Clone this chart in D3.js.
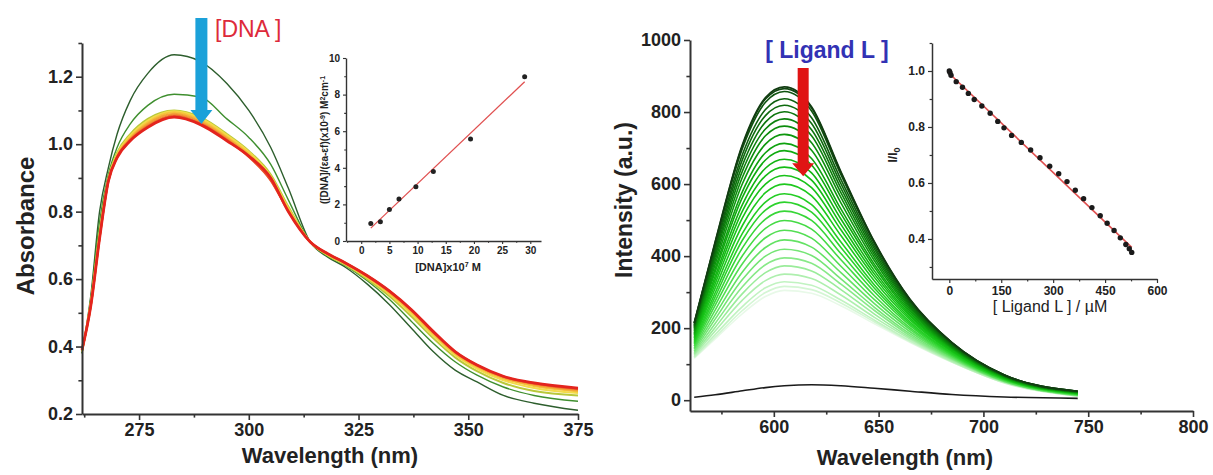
<!DOCTYPE html>
<html>
<head>
<meta charset="utf-8">
<script src="https://cdn.jsdelivr.net/npm/d3@7"></script>
<style>
  html, body { margin: 0; padding: 0; background: #fff; }
  svg { display: block; font-family: Arial, "Liberation Sans", sans-serif; }
</style>
</head>
<body>
<svg id="chart" width="1213" height="475"></svg>
<script>
// ---- UV-Vis titration with DNA (left panel) ----
const absWavelengths = [262, 264, 266, 268, 270, 273, 277, 283, 289, 295, 300, 305, 309, 314, 318, 322, 327, 332, 337, 342, 347, 352, 358, 365, 375];
const absFree   = [.38, .55, .80, .93, 1.03, 1.13, 1.21, 1.265, 1.245, 1.18, 1.10, .99, .87, .71, .665, .635, .585, .525, .455, .385, .33, .295, .255, .232, .211];
const absDna1   = [.38, .54, .77, .91, .99, 1.06, 1.115, 1.148, 1.14, 1.075, 1.02, .94, .835, .71, .668, .64, .595, .54, .475, .41, .355, .315, .28, .255, .238];
const absDna2   = [.385, .53, .74, .90, .975, 1.03, 1.075, 1.10, 1.08, 1.03, .98, .91, .815, .71, .67, .642, .60, .55, .49, .425, .368, .327, .292, .268, .255];
const absDna3   = [.385, .53, .73, .895, .97, 1.025, 1.07, 1.098, 1.077, 1.027, .977, .905, .81, .71, .672, .645, .604, .556, .498, .433, .375, .334, .30, .277, .262];
const absDna4   = [.387, .525, .725, .893, .967, 1.02, 1.065, 1.095, 1.072, 1.022, .972, .90, .807, .71, .673, .646, .606, .559, .503, .438, .379, .339, .305, .283, .267];
const absDna5   = [.388, .522, .723, .891, .964, 1.016, 1.06, 1.09, 1.067, 1.018, .967, .897, .804, .71, .674, .647, .608, .562, .506, .441, .382, .342, .308, .287, .27];
const absDna6   = [.389, .52, .721, .89, .962, 1.013, 1.055, 1.086, 1.062, 1.014, .964, .894, .802, .71, .675, .648, .609, .564, .508, .443, .384, .344, .31, .29, .273];
const absDna7   = [.39, .52, .72, .89, .961, 1.011, 1.052, 1.083, 1.06, 1.012, .962, .892, .801, .71, .675, .648, .61, .565, .509, .444, .385, .345, .311, .291, .275];
const absDna8   = [.39, .52, .72, .89, .96, 1.01, 1.05, 1.08, 1.058, 1.01, .965, .90, .80, .71, .675, .648, .61, .565, .51, .445, .385, .345, .312, .292, .277];
const absCurves = [absFree, absDna1, absDna2, absDna3, absDna4, absDna5, absDna6, absDna7, absDna8];
const absColors = ["#2d5e2d", "#3f8f2f", "#b9c83a", "#f2dc4a", "#f5c33a", "#f3a236", "#ee7a2a", "#e8502a", "#e3241e"];
const absWidths = [1.4, 1.4, 2, 2, 2, 2, 2, 2, 2.8];

// inset: [DNA]/(εa-εf) vs [DNA]
const dnaConc  = [1.7, 3.4, 5.0, 6.7, 9.7, 12.8, 19.4, 29.0];
const dnaRatio = [0.95, 1.05, 1.72, 2.3, 2.97, 3.8, 5.58, 8.97];

// ---- Emission titration with ligand L (right panel) ----
const emWavelengths = [562, 572, 585, 596, 605, 618, 632, 648, 665, 685, 710, 745];
const emissionSpectra = [
  [215, 440, 710, 840, 870, 815, 635, 440, 280, 160, 70, 25],
  [214, 438, 706, 836, 865, 811, 632, 438, 279, 160, 70, 25],
  [213, 434, 699, 827, 857, 803, 626, 435, 277, 159, 70, 25],
  [209, 424, 682, 807, 837, 784, 613, 427, 273, 157, 69, 24],
  [206, 416, 668, 790, 819, 768, 601, 420, 269, 155, 68, 24],
  [203, 407, 652, 772, 801, 751, 589, 412, 265, 153, 67, 23],
  [200, 398, 636, 753, 781, 734, 576, 404, 261, 151, 67, 23],
  [196, 388, 619, 734, 761, 715, 563, 396, 257, 149, 66, 22],
  [192, 377, 601, 711, 738, 694, 548, 387, 252, 147, 65, 22],
  [187, 365, 579, 687, 713, 671, 531, 377, 247, 145, 64, 21],
  [184, 356, 563, 667, 693, 653, 518, 369, 242, 143, 63, 21],
  [180, 344, 543, 644, 669, 631, 503, 359, 237, 141, 62, 20],
  [176, 334, 525, 623, 647, 611, 488, 350, 233, 138, 61, 20],
  [172, 323, 506, 600, 624, 590, 473, 341, 228, 136, 60, 19],
  [168, 311, 485, 576, 600, 567, 457, 331, 223, 134, 60, 18],
  [163, 298, 463, 550, 573, 543, 439, 320, 217, 131, 58, 18],
  [159, 287, 444, 528, 550, 522, 424, 311, 212, 129, 58, 17],
  [155, 275, 423, 503, 525, 499, 407, 301, 207, 126, 57, 16],
  [150, 263, 401, 477, 499, 475, 390, 290, 201, 124, 56, 16],
  [145, 250, 379, 451, 472, 450, 372, 279, 196, 121, 54, 15],
  [141, 237, 356, 424, 445, 425, 354, 268, 190, 119, 53, 14],
  [136, 225, 335, 400, 419, 402, 337, 258, 184, 116, 52, 14],
  [132, 213, 315, 376, 395, 380, 322, 249, 179, 114, 52, 13],
  [128, 202, 296, 354, 373, 359, 307, 239, 174, 112, 51, 13],
  [124, 192, 278, 332, 350, 338, 292, 230, 170, 109, 50, 12],
  [120, 182, 260, 312, 329, 319, 278, 222, 165, 107, 49, 12],
  [118, 175, 249, 299, 316, 307, 270, 217, 162, 106, 48, 11],
  [116, 170, 240, 288, 305, 297, 262, 212, 160, 105, 48, 11]
];
const emBlank = [8, 15, 26, 35, 40, 43, 40, 33, 25, 16, 9, 5];

// inset: I/I0 vs [Ligand L]
const ligandConc = [0, 2, 5, 20, 38, 55, 72, 94, 118, 140, 158, 180, 208, 235, 262, 290, 316, 340, 364, 388, 412, 436, 456, 476, 494, 510, 520, 527];
const quenchRatio = [1.0, 0.995, 0.985, 0.962, 0.942, 0.92, 0.898, 0.875, 0.849, 0.82, 0.797, 0.77, 0.745, 0.718, 0.69, 0.66, 0.633, 0.605, 0.574, 0.544, 0.512, 0.483, 0.456, 0.43, 0.404, 0.38, 0.365, 0.352];

const svg = d3.select("#chart");
svg.append("rect").attr("width", 1213).attr("height", 475).attr("fill", "#fff");
const FONT = "Arial, 'Liberation Sans', sans-serif";

// scales
const xL = d3.scaleLinear().domain([262, 375]).range([82, 578]);
const yL = d3.scaleLinear().domain([0.2, 1.3]).range([414, 43]);
const xR = d3.scaleLinear().domain([560, 800]).range([690, 1193]);
const yR = d3.scaleLinear().domain([-30, 1000]).range([411, 40]);
const xI = d3.scaleLinear().domain([-2.7, 31.9]).range([346, 541]);
const yI = d3.scaleLinear().domain([0, 10]).range([241, 58]);
const xJ = d3.scaleLinear().domain([-50, 600]).range([932, 1157]);
const yJ = d3.scaleLinear().domain([0.257, 1.1]).range([279, 43]);

// axis helper: major ticks with labels + unlabeled minor ticks
function addAxis(kind, scale, pos, major, minor, fmt, tick, fontSize, sw) {
  const make = kind === "left" ? d3.axisLeft : d3.axisBottom;
  const tr = kind === "left" ? `translate(${pos},0)` : `translate(0,${pos})`;
  const g = svg.append("g").attr("transform", tr);
  g.call(make(scale).tickValues(major).tickFormat(fmt).tickSize(tick).tickSizeOuter(0).tickPadding(3));
  g.append("g").call(make(scale).tickValues(minor).tickFormat("").tickSize(tick * 0.6).tickSizeOuter(0))
    .select(".domain").remove();
  g.attr("font-family", FONT).attr("font-size", fontSize);
  g.selectAll(".domain").attr("stroke", "#333").attr("stroke-width", sw);
  g.selectAll(".tick line").attr("stroke", "#333").attr("stroke-width", sw * 0.8);
  g.selectAll(".tick text").attr("fill", "#222").attr("font-weight", "bold");
  return g;
}
const rng = (a, b, s) => d3.range(a, b + s / 2, s);

// ---------- left main ----------
const absLine = d3.line().curve(d3.curveMonotoneX).x((d, i) => xL(absWavelengths[i])).y(d => yL(d));
absCurves.forEach((c, k) => {
  svg.append("path").datum(c).attr("d", absLine)
    .attr("fill", "none").attr("stroke", absColors[k]).attr("stroke-width", absWidths[k]);
});
addAxis("left", yL, 82, rng(0.2, 1.2, 0.2), rng(0.3, 1.3, 0.2), d3.format(".1f"), 6, 18, 2);
addAxis("bottom", xL, 414, rng(275, 375, 25), rng(262.5, 362.5, 25), d3.format("d"), 6, 18, 2);

svg.append("text").attr("transform", `translate(34,226) rotate(-90)`).attr("text-anchor", "middle")
  .attr("font-family", FONT).attr("font-size", 24).attr("font-weight", "bold").attr("fill", "#222").text("Absorbance");
svg.append("text").attr("x", 330).attr("y", 463).attr("text-anchor", "middle")
  .attr("font-family", FONT).attr("font-size", 22).attr("font-weight", "bold").attr("fill", "#222").text("Wavelength (nm)");

// arrow + label
function arrow(x, y1, y2, shaft, head, headLen, color) {
  const p = d3.path();
  p.moveTo(x - shaft / 2, y1); p.lineTo(x + shaft / 2, y1); p.lineTo(x + shaft / 2, y2 - headLen);
  p.lineTo(x + head / 2, y2 - headLen); p.lineTo(x, y2); p.lineTo(x - head / 2, y2 - headLen);
  p.lineTo(x - shaft / 2, y2 - headLen); p.closePath();
  svg.append("path").attr("d", p.toString()).attr("fill", color);
}
arrow(xL(289.2), yL(1.374), yL(1.06), 12, 22, 14, "#1ba1d9");
svg.append("text").attr("x", 215).attr("y", 37).attr("font-family", FONT).attr("font-size", 23)
  .attr("fill", "#dd2a3a").text("[DNA ]");

// left inset
const fitL = (() => {
  const mx = d3.mean(dnaConc), my = d3.mean(dnaRatio);
  const b = d3.sum(dnaConc, (x, i) => (x - mx) * (dnaRatio[i] - my)) / d3.sum(dnaConc, x => (x - mx) ** 2);
  return x => my + b * (x - mx);
})();
const xe = d3.extent(dnaConc);
svg.append("line").attr("x1", xI(xe[0])).attr("y1", yI(fitL(xe[0]))).attr("x2", xI(xe[1])).attr("y2", yI(fitL(xe[1])))
  .attr("stroke", "#e05050").attr("stroke-width", 1.3);
svg.append("g").selectAll("circle").data(dnaConc).join("circle")
  .attr("cx", d => xI(d)).attr("cy", (d, i) => yI(dnaRatio[i])).attr("r", 2.5).attr("fill", "#222");
addAxis("left", yI, 346, rng(0, 10, 2), rng(1, 9, 2), d3.format("d"), 3, 10, 1.4);
addAxis("bottom", xI, 241, rng(0, 30, 5), rng(-2.5, 27.5, 5), d3.format("d"), 3, 10, 1.4);
svg.append("text").attr("x", 448).attr("y", 271).attr("text-anchor", "middle")
  .attr("font-family", FONT).attr("font-size", 11).attr("font-weight", "bold").attr("fill", "#222")
  .html('[DNA]x10<tspan dy="-4" font-size="7">7</tspan><tspan dy="4"> M</tspan>');
svg.append("text").attr("transform", `translate(328,140) rotate(-90)`).attr("text-anchor", "middle")
  .attr("font-family", FONT).attr("font-size", 10).attr("font-weight", "bold").attr("fill", "#222")
  .html('([DNA]/(εa-εf)(x10<tspan dy="-3" font-size="7">-9</tspan><tspan dy="3">) M</tspan><tspan dy="-3" font-size="7">2</tspan><tspan dy="3">cm</tspan><tspan dy="-3" font-size="7">-1</tspan>');

// ---------- right main ----------
const emLine = d3.line().curve(d3.curveMonotoneX).x((d, i) => xR(emWavelengths[i])).y(d => yR(d));
const greenColor = d3.scaleSequential(d3.interpolateRgbBasis(["#123c12", "#0a7a0a", "#0fb80f", "#22d422", "#7ee87e", "#e8f9e8"]))
  .domain([0, emissionSpectra.length - 1]);
const order = d3.range(emissionSpectra.length).reverse();
svg.append("g").selectAll("path").data(order).join("path")
  .attr("d", i => emLine(emissionSpectra[i]))
  .attr("fill", "none").attr("stroke", i => greenColor(i)).attr("stroke-width", 1.6);
svg.append("path").datum(emBlank).attr("d", emLine).attr("fill", "none").attr("stroke", "#1a1a1a").attr("stroke-width", 1.6);

addAxis("left", yR, 690, rng(0, 1000, 200), rng(100, 900, 200), d3.format("d"), 6, 18, 2);
addAxis("bottom", xR, 411, rng(600, 800, 50), rng(575, 775, 50), d3.format("d"), 6, 18, 2);
svg.append("text").attr("transform", `translate(632,200) rotate(-90)`).attr("text-anchor", "middle")
  .attr("font-family", FONT).attr("font-size", 23).attr("font-weight", "bold").attr("fill", "#222").text("Intensity (a.u.)");
svg.append("text").attr("x", 905).attr("y", 465).attr("text-anchor", "middle")
  .attr("font-family", FONT).attr("font-size", 22).attr("font-weight", "bold").attr("fill", "#222").text("Wavelength (nm)");

arrow(xR(614), yR(922), yR(622), 11, 22, 13, "#e01414");
svg.append("text").attr("x", 827).attr("y", 58).attr("text-anchor", "middle").attr("font-family", FONT)
  .attr("font-size", 23).attr("font-weight", "bold").attr("fill", "#3232b4").text("[ Ligand L ]");

// right inset
const fitR = (() => {
  const mx = d3.mean(ligandConc), my = d3.mean(quenchRatio);
  const b = d3.sum(ligandConc, (x, i) => (x - mx) * (quenchRatio[i] - my)) / d3.sum(ligandConc, x => (x - mx) ** 2);
  return x => my + b * (x - mx);
})();
const le = d3.extent(ligandConc);
svg.append("line").attr("x1", xJ(le[0])).attr("y1", yJ(fitR(le[0]))).attr("x2", xJ(le[1])).attr("y2", yJ(fitR(le[1])))
  .attr("stroke", "#e05050").attr("stroke-width", 1.6);
svg.append("g").selectAll("circle").data(ligandConc).join("circle")
  .attr("cx", d => xJ(d)).attr("cy", (d, i) => yJ(quenchRatio[i])).attr("r", 2.7).attr("fill", "#1a1a1a");
addAxis("left", yJ, 932, rng(0.4, 1.0, 0.2), [0.3, 0.5, 0.7, 0.9, 1.1], d3.format(".1f"), 4, 12, 1.5);
addAxis("bottom", xJ, 279, rng(0, 600, 150), rng(75, 525, 150), d3.format("d"), 4, 12, 1.5);
svg.append("text").attr("x", 1050).attr("y", 312).attr("text-anchor", "middle")
  .attr("font-family", FONT).attr("font-size", 16).attr("fill", "#222").text("[ Ligand L ] / µM");
svg.append("text").attr("transform", `translate(897,155) rotate(-90)`).attr("text-anchor", "middle")
  .attr("font-family", FONT).attr("font-size", 12).attr("font-weight", "bold").attr("fill", "#222")
  .html('I/I<tspan dy="3" font-size="9">0</tspan>');
</script>
</body>
</html>
